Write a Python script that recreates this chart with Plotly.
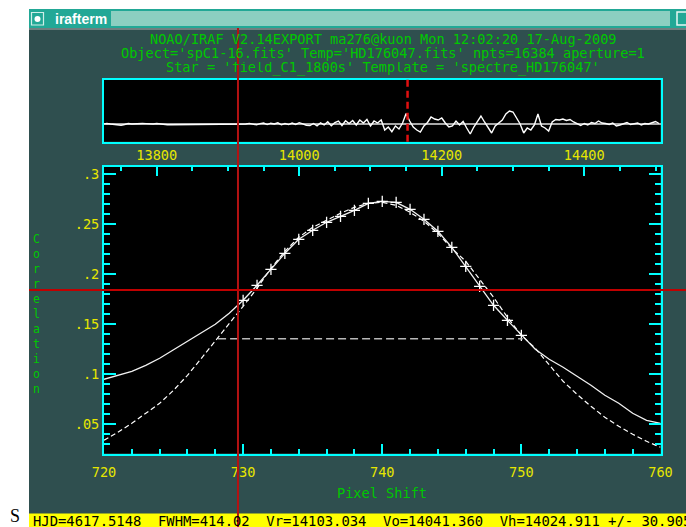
import plotly.graph_objects as go

W, H = 686, 527

# ---------------- data ----------------
# lower panel: cross-correlation function around the peak
pixel_shift = list(range(720, 761))
ccf_main = [0.095, 0.099, 0.103, 0.109, 0.116, 0.1245, 0.133, 0.141, 0.150, 0.161,
            0.174, 0.189, 0.205, 0.221, 0.235, 0.244, 0.252, 0.258, 0.264, 0.271,
            0.273, 0.272, 0.265, 0.255, 0.243, 0.227, 0.208, 0.188, 0.169, 0.154,
            0.139, 0.125, 0.115, 0.107, 0.098, 0.089, 0.079, 0.071, 0.061, 0.054, 0.051]
fit_curve = [0.034, 0.042, 0.051, 0.061, 0.071, 0.084, 0.099, 0.116, 0.133, 0.150,
             0.168, 0.186, 0.206, 0.223, 0.237, 0.247, 0.254, 0.261, 0.267, 0.271,
             0.272, 0.269, 0.262, 0.253, 0.241, 0.226, 0.213, 0.195, 0.177, 0.157,
             0.139, 0.126, 0.110, 0.093, 0.080, 0.068, 0.057, 0.048, 0.040, 0.033, 0.027]
fit_first, fit_last = 730, 750          # points used in the fit (marked +)
half_level = 0.1355                     # FWHM level
half_left, half_right = 728.2, 750.1
y_ticks = [0.05, 0.10, 0.15, 0.20, 0.25, 0.30]
y_ticktext = ['.05', '.1', '.15', '.2', '.25', '.3']

# upper panel: full CCF versus velocity
velocity = list(range(13725, 14510, 5))
ccf_full = [0, 0.005, 0, -0.005, -0.012, -0.012, -0.005, 0.005, 0, 0.003,
            0, 0.005, 0.004, 0, 0, 0.005, 0, -0.007, -0.007, -0.007,
            -0.007, -0.007, -0.007, 0, 0, 0, 0, 0, 0, 0,
            0, 0, 0, 0, 0, 0, 0, 0, -0.007, -0.007,
            0, 0.006, 0, -0.008, 0.004, 0.010, -0.006, 0.008, 0, 0.012,
            -0.008, 0.005, -0.006, 0.009, -0.004, 0.013, 0.002, -0.012, -0.016, 0.005,
            -0.018, 0.012, -0.010, 0.022, -0.018, 0.015, 0.030, -0.015, 0.032, 0.005,
            0.035, -0.010, 0.040, 0.010, 0.045, -0.020, 0.030, 0.010, 0.040, -0.060,
            -0.030, -0.077, -0.020, -0.050, 0.010, 0.105, 0.030, -0.030, -0.060, -0.080,
            -0.020, 0.015, 0.070, 0.050, 0.040, 0.060, 0.010, -0.030, -0.020, 0.030,
            -0.010, 0.025, -0.040, -0.100, -0.030, 0.030, 0.080, 0.020, -0.040, -0.090,
            -0.020, 0.010, 0.040, 0.100, 0.130, 0.120, 0.060, 0.000, -0.090, -0.040,
            -0.060, -0.010, 0.100, -0.020, -0.040, -0.070, 0.020, 0.045, 0.040, 0.050,
            0.035, 0.045, 0.020, 0.005, -0.015, 0.005, -0.010, 0.015, 0.005, 0.030,
            0.010, 0.005, -0.005, 0.010, -0.020, -0.010, 0.005, 0.015, -0.005, 0.005,
            0.010, -0.010, 0.005, 0, 0.015, 0.025, 0.005]
peak_velocity = 14152

cursor_x, cursor_y = 729.63, 0.1843

header_lines = [
    "NOAO/IRAF V2.14EXPORT ma276@kuon Mon 12:02:20 17-Aug-2009",
    "Object='spC1-16.fits' Temp='HD176047.fits' npts=16384 aperture=1",
    "Star = 'field_C1_1800s' Template = 'spectre_HD176047'",
]
y_title = "Correlation"
x_title = "Pixel Shift"
status_text = "HJD=4617.5148  FWHM=414.02  Vr=14103.034  Vo=14041.360  Vh=14024.911 +/- 30.905"

# ---------------- style ----------------
MONO = "DejaVu Sans Mono"
FS = 13.6
CYAN = "#00ffff"
YEL = "#e6e600"
GRN = "#00c800"
BG = "#2f4f4f"


def fx(px):
    return px / W


def fy(py):
    return 1 - py / H


fit_x = [p for p in pixel_shift if fit_first <= p <= fit_last]
fit_y = [c for p, c in zip(pixel_shift, ccf_main) if fit_first <= p <= fit_last]

xdom = [fx(104), fx(660.5)]
vel_range = [13726, 14507]
y_range = [0.0208, 0.3073]

fig = go.Figure()
fig.add_trace(go.Scatter(x=velocity, y=ccf_full, mode='lines',
                         line=dict(color='white', width=1.4),
                         xaxis='x2', yaxis='y2', hoverinfo='skip'))
fig.add_trace(go.Scatter(x=pixel_shift, y=fit_curve, mode='lines',
                         line=dict(color='white', width=1.2, dash='5px,3px'),
                         hoverinfo='skip'))
fig.add_trace(go.Scatter(x=pixel_shift, y=ccf_main, mode='lines',
                         line=dict(color='#f0f0f0', width=1.3), hoverinfo='skip'))
fig.add_trace(go.Scatter(x=fit_x, y=fit_y, mode='markers',
                         marker=dict(symbol='cross-thin', size=8, color='white',
                                     line=dict(color='white', width=1.3)),
                         hoverinfo='skip'))
fig.add_trace(go.Scatter(x=[half_left, half_right], y=[half_level, half_level], mode='lines',
                         line=dict(color='#b8b8b8', width=1.5, dash='8px,4px'),
                         hoverinfo='skip'))
# invisible trace that activates the velocity (top) and mirrored (right) axes
fig.add_trace(go.Scatter(x=vel_range, y=y_range, xaxis='x3', yaxis='y3', mode='markers',
                         marker=dict(opacity=0), hoverinfo='skip'))

axcommon = dict(showgrid=False, zeroline=False, showline=True, linecolor=CYAN, linewidth=2,
                automargin=False, fixedrange=True)
tickfont = dict(family=MONO, size=FS, color=YEL)

shapes = [
    # white surroundings of the terminal window
    dict(type='rect', xref='paper', yref='paper', x0=0, x1=fx(29), y0=0, y1=1,
         fillcolor='white', line_width=0, layer='below'),
    dict(type='rect', xref='paper', yref='paper', x0=0, x1=1, y0=fy(9), y1=1,
         fillcolor='white', line_width=0, layer='below'),
    # title bar
    dict(type='rect', xref='paper', yref='paper', x0=fx(29), x1=1, y0=fy(28), y1=fy(9),
         fillcolor='#22a896', line_width=0, layer='below'),
    dict(type='rect', xref='paper', yref='paper', x0=fx(29), x1=1, y0=fy(30), y1=fy(28),
         fillcolor='#6f8080', line_width=0, layer='below'),
    dict(type='rect', xref='paper', yref='paper', x0=fx(111), x1=fx(670), y0=fy(26), y1=fy(11),
         fillcolor='#8ccfc1', line_width=0, layer='below'),
    dict(type='rect', xref='paper', yref='paper', x0=fx(31.5), x1=fx(43.5), y0=fy(25), y1=fy(12.5),
         fillcolor='#22a896', line=dict(color='#cfeee8', width=1.2), layer='below'),
    dict(type='circle', xref='paper', yref='paper', x0=fx(34.5), x1=fx(40.5), y0=fy(22), y1=fy(16),
         fillcolor='white', line_width=0, layer='below'),
    dict(type='rect', xref='paper', yref='paper', x0=fx(677), x1=fx(690), y0=fy(25), y1=fy(12),
         fillcolor='#22a896', line=dict(color='#e8f6f3', width=1.5), layer='below'),
    # status bar
    dict(type='rect', xref='paper', yref='paper', x0=fx(29), x1=1, y0=0, y1=fy(513.5),
         fillcolor='#ffff00', line_width=0, layer='below'),
    # cursor cross-hair
    dict(type='line', xref='x', yref='paper', x0=cursor_x, x1=cursor_x, y0=0, y1=fy(28),
         line=dict(color='#b41212', width=2), layer='above'),
    dict(type='line', xref='paper', yref='y', x0=fx(29), x1=1, y0=cursor_y, y1=cursor_y,
         line=dict(color='#c00000', width=2), layer='above'),
    # peak marker in upper panel
    dict(type='line', xref='x2', yref='y2 domain', x0=peak_velocity, x1=peak_velocity, y0=0, y1=1,
         line=dict(color='#e01010', width=2.5, dash='7px,4px'), layer='above'),
]

annotations = []
for i, t in enumerate(header_lines):
    annotations.append(dict(xref='paper', yref='paper', x=fx(383), y=fy(40 + 14.5 * i),
                            text=t, showarrow=False, xanchor='center', yanchor='middle',
                            height=14, valign='bottom', borderpad=0,
                            font=dict(family=MONO, size=FS, color=GRN)))
annotations.append(dict(xref='paper', yref='paper', x=fx(36.5), y=fy(314), text="<br>".join(y_title),
                        showarrow=False, xanchor='center', yanchor='middle', align='center',
                        font=dict(family=MONO, size=11.5, color=GRN)))
annotations.append(dict(xref='paper', yref='paper', x=fx(382), y=fy(493), text=x_title,
                        showarrow=False, xanchor='center', yanchor='middle',
                        font=dict(family=MONO, size=FS, color=GRN)))
annotations.append(dict(xref='paper', yref='paper', x=fx(30.5), y=fy(520.5), text=status_text,
                        showarrow=False, xanchor='left', yanchor='middle', height=13.5,
                        font=dict(family=MONO, size=13.85, color='black')))
annotations.append(dict(xref='paper', yref='paper', x=fx(53), y=fy(18.5), text="<b>irafterm</b>",
                        showarrow=False, xanchor='left', yanchor='middle',
                        font=dict(family="Liberation Sans", size=14, color='white')))
annotations.append(dict(xref='paper', yref='paper', x=fx(15), y=fy(516), text="S",
                        showarrow=False, xanchor='center', yanchor='middle',
                        font=dict(family="Liberation Serif", size=18, color='black')))

fig.update_layout(
    width=W, height=H, margin=dict(l=0, r=0, t=0, b=0),
    paper_bgcolor=BG, plot_bgcolor='black', showlegend=False,
    shapes=shapes, annotations=annotations,
    xaxis=dict(domain=xdom, range=[720, 760], anchor='y', ticks='inside', ticklen=10,
               tickwidth=2, tickcolor=CYAN, tick0=720, dtick=10, tickfont=tickfont,
               ticklabelstandoff=5,
               minor=dict(ticks='inside', ticklen=5, tickwidth=2, tickcolor=CYAN, dtick=2, tick0=720),
               **axcommon),
    xaxis3=dict(overlaying='x', side='top', anchor='y', range=vel_range, ticks='inside',
                ticklen=9, tickwidth=2, tickcolor=CYAN, tick0=13800, dtick=200,
                tickformat='d', exponentformat='none', tickfont=tickfont,
                minor=dict(ticks='inside', ticklen=4, tickwidth=2, tickcolor=CYAN, dtick=50, tick0=13800),
                **axcommon),
    yaxis=dict(domain=[fy(453.5), fy(167)], range=y_range, anchor='x', ticks='inside',
               ticklen=12, tickwidth=2, tickcolor=CYAN, tickmode='array', tickvals=y_ticks,
               ticktext=y_ticktext, tickfont=tickfont,
               minor=dict(ticks='inside', ticklen=6, tickwidth=2, tickcolor=CYAN, dtick=0.01, tick0=0),
               **axcommon),
    yaxis3=dict(overlaying='y', side='right', anchor='x', range=y_range, ticks='inside',
                ticklen=12, tickwidth=2, tickcolor=CYAN, tickmode='array', tickvals=y_ticks,
                showticklabels=False,
                minor=dict(ticks='inside', ticklen=6, tickwidth=2, tickcolor=CYAN, dtick=0.01, tick0=0),
                **axcommon),
    xaxis2=dict(domain=xdom, range=vel_range, anchor='y2', mirror=True, ticks='',
                showticklabels=False, showgrid=False, zeroline=False, showline=True,
                linecolor=CYAN, linewidth=2, automargin=False, fixedrange=True),
    yaxis2=dict(domain=[fy(141.7), fy(79.7)], range=[-0.177, 0.443], anchor='x2', mirror=True,
                ticks='', showticklabels=False, showgrid=False, zeroline=True,
                zerolinecolor='#a8a8a8', zerolinewidth=1.5, showline=True, linecolor=CYAN,
                linewidth=2, automargin=False, fixedrange=True),
)

fig.write_html("out.html", post_script="document.body.style.margin='0px';",
               config={'displayModeBar': False})
